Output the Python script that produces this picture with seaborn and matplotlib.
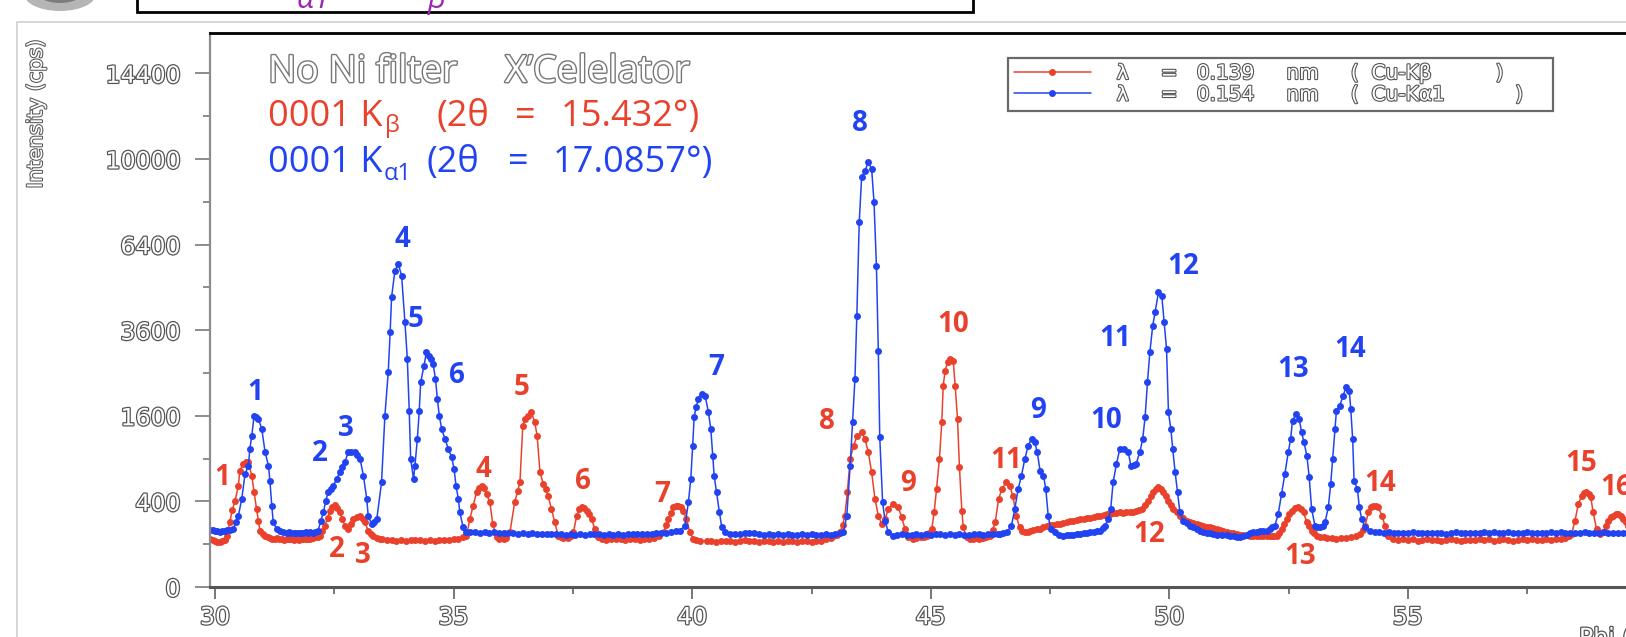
import numpy as np
import pandas as pd
import matplotlib
matplotlib.use("Agg")
import matplotlib.pyplot as plt
import matplotlib.patheffects as pe
from matplotlib.patches import Rectangle, Ellipse
import seaborn as sns

# scan data: (phi, intensity in cps)
red_scan = [
    (29.90, 128), (29.95, 122), (30.00, 118), (30.05, 112), (30.10, 110), (30.15, 114), (30.20, 120),
    (30.25, 140), (30.31, 228), (30.36, 320), (30.42, 407), (30.49, 560), (30.52, 739), (30.59, 826),
    (30.65, 850), (30.70, 848), (30.77, 677), (30.82, 489), (30.87, 332), (30.91, 241), (30.94, 174),
    (31.00, 152), (31.05, 144), (31.10, 136), (31.15, 132), (31.20, 128), (31.25, 126), (31.30, 130),
    (31.35, 124), (31.40, 127), (31.45, 122), (31.50, 126), (31.55, 124), (31.60, 128), (31.65, 123),
    (31.70, 126), (31.75, 122), (31.80, 127), (31.85, 124), (31.90, 128), (31.95, 125), (32.00, 126),
    (32.05, 130), (32.10, 134), (32.15, 138), (32.20, 144), (32.25, 170), (32.30, 205), (32.36, 260),
    (32.41, 318), (32.46, 350), (32.51, 367), (32.56, 340), (32.62, 304), (32.67, 250), (32.72, 205),
    (32.79, 184), (32.85, 215), (32.90, 252), (32.97, 270), (33.04, 278), (33.10, 255), (33.14, 228),
    (33.21, 174), (33.27, 152), (33.32, 140), (33.40, 130), (33.46, 126), (33.50, 124), (33.60, 120),
    (33.70, 122), (33.80, 118), (33.90, 121), (34.00, 117), (34.10, 120), (34.20, 123), (34.30, 119),
    (34.40, 116), (34.50, 121), (34.60, 118), (34.70, 122), (34.80, 119), (34.90, 121), (35.00, 124),
    (35.10, 128), (35.20, 134), (35.27, 140), (35.34, 252), (35.41, 361), (35.48, 489), (35.54, 540),
    (35.59, 560), (35.64, 530), (35.69, 472), (35.76, 391), (35.82, 217), (35.90, 135), (35.95, 128),
    (36.00, 130), (36.05, 126), (36.10, 132), (36.18, 163), (36.28, 391), (36.34, 500), (36.39, 598),
    (36.45, 1421), (36.50, 1540), (36.56, 1602), (36.63, 1665), (36.70, 1480), (36.75, 1250),
    (36.81, 718), (36.88, 579), (36.93, 520), (36.98, 455), (37.05, 332), (37.12, 228), (37.19, 144),
    (37.25, 136), (37.30, 132), (37.35, 138), (37.40, 133), (37.45, 140), (37.51, 163), (37.58, 278),
    (37.63, 330), (37.68, 346), (37.73, 340), (37.79, 318), (37.84, 290), (37.89, 252), (37.96, 184),
    (38.03, 135), (38.10, 126), (38.20, 122), (38.30, 128), (38.40, 124), (38.50, 127), (38.60, 121),
    (38.70, 125), (38.80, 128), (38.90, 123), (39.00, 126), (39.10, 124), (39.20, 130), (39.30, 140),
    (39.40, 163), (39.45, 210), (39.50, 252), (39.55, 300), (39.60, 346), (39.65, 358), (39.71, 361),
    (39.76, 345), (39.81, 318), (39.88, 252), (39.95, 163), (40.02, 126), (40.08, 120), (40.16, 117),
    (40.30, 114), (40.40, 118), (40.50, 112), (40.60, 116), (40.70, 113), (40.80, 118), (40.90, 111),
    (41.00, 115), (41.10, 119), (41.20, 114), (41.30, 116), (41.40, 112), (41.50, 117), (41.60, 113),
    (41.70, 110), (41.80, 115), (41.90, 112), (42.00, 118), (42.10, 114), (42.20, 110), (42.30, 116),
    (42.40, 113), (42.50, 109), (42.60, 115), (42.70, 118), (42.80, 124), (42.90, 132), (42.96, 144),
    (43.03, 150), (43.10, 163), (43.15, 210), (43.20, 278), (43.25, 489), (43.31, 894), (43.38, 1090),
    (43.46, 1250), (43.55, 1305), (43.62, 1196), (43.69, 990), (43.76, 718), (43.83, 423), (43.90, 278),
    (43.97, 217), (44.04, 252), (44.11, 332), (44.21, 376), (44.32, 346), (44.39, 265), (44.46, 184),
    (44.53, 135), (44.63, 126), (44.70, 132), (44.80, 136), (44.85, 134), (44.91, 144), (44.97, 160),
    (45.02, 184), (45.07, 304), (45.12, 524), (45.18, 894), (45.23, 1480), (45.26, 2212), (45.30, 2554),
    (45.35, 2756), (45.40, 2838), (45.47, 2797), (45.51, 2212), (45.56, 1541), (45.60, 782),
    (45.65, 318), (45.68, 194), (45.75, 135), (45.82, 124), (45.89, 126), (45.95, 130), (46.00, 128),
    (46.05, 132), (46.10, 130), (46.15, 136), (46.24, 144), (46.30, 180), (46.35, 228), (46.42, 423),
    (46.49, 524), (46.58, 598), (46.65, 560), (46.72, 455), (46.79, 278), (46.86, 194), (46.92, 170),
    (46.97, 163), (47.03, 168), (47.08, 174), (47.15, 178), (47.22, 182), (47.29, 184), (47.36, 196),
    (47.43, 205), (47.50, 208), (47.57, 212), (47.64, 214), (47.71, 217), (47.78, 224), (47.85, 230),
    (47.92, 236), (47.99, 241), (48.06, 246), (48.13, 250), (48.20, 254), (48.27, 257), (48.34, 262),
    (48.41, 268), (48.48, 272), (48.55, 278), (48.62, 284), (48.69, 288), (48.75, 291), (48.82, 296),
    (48.89, 300), (48.96, 304), (49.03, 302), (49.10, 306), (49.17, 303), (49.24, 304), (49.30, 312),
    (49.36, 320), (49.42, 332), (49.49, 368), (49.56, 407), (49.61, 450), (49.66, 489), (49.71, 520),
    (49.77, 543), (49.82, 520), (49.87, 489), (49.93, 450), (49.98, 407), (50.03, 370), (50.08, 332),
    (50.15, 304), (50.22, 278), (50.29, 258), (50.36, 241), (50.43, 232), (50.50, 224), (50.57, 217),
    (50.64, 210), (50.71, 204), (50.78, 199), (50.85, 194), (50.92, 188), (50.99, 183), (51.06, 178),
    (51.13, 174), (51.20, 168), (51.27, 162), (51.34, 157), (51.41, 153), (51.48, 150), (51.55, 147),
    (51.62, 145), (51.69, 144), (51.76, 142), (51.83, 141), (51.90, 140), (51.97, 141), (52.04, 140),
    (52.10, 141), (52.15, 142), (52.20, 143), (52.25, 144), (52.30, 160), (52.35, 184), (52.40, 220),
    (52.46, 252), (52.51, 290), (52.56, 318), (52.63, 338), (52.70, 346), (52.76, 330), (52.81, 304),
    (52.88, 228), (52.93, 200), (52.98, 174), (53.03, 158), (53.09, 144), (53.16, 138), (53.23, 135),
    (53.30, 130), (53.40, 133), (53.50, 128), (53.60, 131), (53.70, 129), (53.80, 134), (53.90, 140),
    (53.99, 153), (54.05, 178), (54.10, 205), (54.17, 304), (54.22, 345), (54.27, 361), (54.33, 355),
    (54.38, 346), (54.45, 278), (54.52, 205), (54.59, 144), (54.69, 126), (54.80, 122), (54.90, 125),
    (55.00, 120), (55.10, 124), (55.20, 118), (55.30, 122), (55.40, 126), (55.50, 119), (55.60, 123),
    (55.70, 117), (55.80, 121), (55.90, 125), (56.00, 120), (56.10, 118), (56.20, 123), (56.30, 119),
    (56.40, 122), (56.50, 126), (56.60, 120), (56.70, 124), (56.80, 118), (56.90, 122), (57.00, 125),
    (57.10, 120), (57.20, 117), (57.30, 122), (57.40, 126), (57.50, 121), (57.60, 124), (57.70, 119),
    (57.80, 123), (57.90, 127), (58.00, 122), (58.10, 125), (58.20, 128), (58.30, 132), (58.37, 140),
    (58.43, 153), (58.50, 241), (58.57, 376), (58.64, 455), (58.69, 480), (58.74, 489), (58.79, 470),
    (58.83, 439), (58.88, 304), (58.95, 184), (59.02, 153), (59.09, 163), (59.15, 200), (59.20, 241),
    (59.25, 265), (59.30, 278), (59.36, 288), (59.41, 291), (59.46, 278), (59.51, 252), (59.57, 230),
    (59.62, 205), (59.70, 170),
]

blue_scan = [
    (29.90, 180), (29.95, 176), (30.00, 172), (30.05, 170), (30.10, 168), (30.15, 172), (30.20, 170),
    (30.25, 176), (30.31, 180), (30.38, 184), (30.44, 230), (30.49, 278), (30.56, 423), (30.63, 697),
    (30.70, 804), (30.73, 1039), (30.77, 1250), (30.82, 1602), (30.86, 1570), (30.91, 1541),
    (30.98, 1363), (31.05, 990), (31.12, 804), (31.15, 617), (31.19, 361), (31.22, 228), (31.29, 184),
    (31.36, 170), (31.43, 163), (31.50, 160), (31.55, 164), (31.60, 158), (31.65, 162), (31.70, 160),
    (31.75, 157), (31.80, 162), (31.85, 159), (31.90, 163), (31.95, 160), (32.00, 165), (32.05, 162),
    (32.10, 168), (32.16, 174), (32.22, 240), (32.27, 304), (32.32, 400), (32.37, 489), (32.43, 525),
    (32.48, 560), (32.55, 640), (32.62, 718), (32.67, 790), (32.72, 848), (32.79, 990), (32.86, 1000),
    (32.93, 990), (32.98, 950), (33.04, 894), (33.11, 677), (33.18, 423), (33.21, 278), (33.28, 217),
    (33.34, 230), (33.39, 252), (33.49, 598), (33.56, 1602), (33.63, 2515), (33.67, 3540),
    (33.70, 4580), (33.77, 5462), (33.84, 5697), (33.91, 5290), (33.98, 3830), (34.03, 2838),
    (34.07, 1697), (34.10, 894), (34.16, 637), (34.19, 804), (34.24, 1196), (34.28, 1697),
    (34.31, 2287), (34.38, 2674), (34.43, 3006), (34.48, 2920), (34.52, 2838), (34.57, 2714),
    (34.62, 2362), (34.66, 1929), (34.70, 1602), (34.75, 1363), (34.82, 1196), (34.89, 1039),
    (34.96, 918), (35.01, 760), (35.05, 560), (35.10, 423), (35.13, 304), (35.20, 194), (35.27, 163),
    (35.35, 168), (35.45, 165), (35.55, 162), (35.65, 166), (35.75, 160), (35.85, 163), (35.95, 158),
    (36.05, 161), (36.15, 157), (36.25, 160), (36.35, 155), (36.45, 158), (36.55, 154), (36.65, 157),
    (36.75, 153), (36.85, 156), (36.95, 152), (37.05, 155), (37.15, 151), (37.25, 154), (37.35, 150),
    (37.45, 153), (37.55, 149), (37.65, 152), (37.75, 150), (37.85, 154), (37.95, 151), (38.05, 155),
    (38.15, 150), (38.25, 153), (38.35, 149), (38.45, 152), (38.55, 150), (38.65, 154), (38.75, 151),
    (38.85, 155), (38.95, 152), (39.05, 156), (39.15, 153), (39.25, 157), (39.35, 160), (39.45, 162),
    (39.55, 165), (39.65, 170), (39.74, 174), (39.85, 205), (39.92, 391), (39.97, 637), (40.01, 1090),
    (40.04, 1571), (40.08, 1762), (40.13, 1929), (40.20, 2033), (40.27, 1998), (40.34, 1665),
    (40.39, 1363), (40.43, 942), (40.46, 677), (40.51, 489), (40.57, 304), (40.62, 194), (40.69, 163),
    (40.80, 156), (40.90, 152), (41.00, 155), (41.10, 158), (41.20, 162), (41.30, 157), (41.40, 153),
    (41.50, 150), (41.60, 152), (41.70, 149), (41.80, 151), (41.90, 148), (42.00, 152), (42.10, 150),
    (42.20, 147), (42.30, 151), (42.40, 149), (42.50, 153), (42.60, 150), (42.70, 148), (42.80, 152),
    (42.90, 150), (43.00, 154), (43.10, 157), (43.17, 163), (43.24, 278), (43.31, 804), (43.36, 1480),
    (43.41, 2362), (43.45, 4019), (43.50, 7259), (43.55, 9162), (43.62, 9460), (43.69, 9843),
    (43.76, 9540), (43.81, 8075), (43.86, 5637), (43.90, 3049), (43.93, 1223), (43.99, 391),
    (44.04, 241), (44.11, 163), (44.21, 144), (44.30, 148), (44.40, 152), (44.50, 147), (44.60, 150),
    (44.70, 153), (44.80, 149), (44.90, 152), (45.00, 150), (45.10, 154), (45.20, 151), (45.30, 148),
    (45.40, 152), (45.50, 149), (45.60, 153), (45.70, 150), (45.80, 147), (45.90, 151), (46.00, 153),
    (46.10, 150), (46.20, 154), (46.30, 152), (46.40, 155), (46.45, 153), (46.52, 158), (46.59, 163),
    (46.69, 205), (46.76, 332), (46.83, 524), (46.90, 677), (46.97, 894), (47.04, 1090), (47.11, 1196),
    (47.18, 1143), (47.23, 990), (47.29, 739), (47.36, 677), (47.41, 524), (47.46, 278), (47.51, 184),
    (47.60, 163), (47.69, 150), (47.78, 144), (47.85, 146), (47.92, 150), (47.99, 148), (48.06, 153),
    (48.13, 156), (48.20, 158), (48.27, 160), (48.34, 163), (48.41, 166), (48.48, 170), (48.55, 174),
    (48.60, 190), (48.65, 205), (48.72, 252), (48.77, 332), (48.82, 598), (48.89, 826), (48.96, 1039),
    (49.05, 1039), (49.14, 990), (49.19, 804), (49.25, 810), (49.30, 826), (49.38, 990), (49.44, 1196),
    (49.49, 1571), (49.54, 2287), (49.59, 3006), (49.65, 3728), (49.70, 4118), (49.77, 4740),
    (49.84, 4633), (49.89, 3823), (49.94, 3093), (49.98, 1665), (50.03, 1363), (50.07, 1039),
    (50.12, 718), (50.17, 489), (50.22, 304), (50.29, 241), (50.36, 222), (50.43, 205), (50.50, 195),
    (50.57, 184), (50.64, 174), (50.71, 168), (50.78, 162), (50.85, 157), (50.92, 153), (51.00, 150),
    (51.10, 147), (51.20, 145), (51.27, 144), (51.35, 140), (51.41, 138), (51.48, 135), (51.55, 142),
    (51.62, 150), (51.69, 158), (51.76, 163), (51.83, 166), (51.90, 170), (51.97, 172), (52.04, 174),
    (52.11, 184), (52.16, 195), (52.21, 205), (52.28, 290), (52.35, 470), (52.42, 700), (52.49, 990),
    (52.54, 1196), (52.58, 1510), (52.65, 1634), (52.72, 1541), (52.77, 1306), (52.82, 1143),
    (52.88, 942), (52.93, 657), (52.98, 332), (53.05, 205), (53.10, 198), (53.16, 194), (53.21, 205),
    (53.26, 228), (53.33, 346), (53.38, 579), (53.42, 894), (53.47, 1363), (53.50, 1697),
    (53.57, 1795), (53.64, 1998), (53.70, 2176), (53.77, 2104), (53.80, 1729), (53.84, 1196),
    (53.87, 617), (53.94, 524), (53.98, 346), (54.03, 252), (54.10, 194), (54.20, 174), (54.30, 166),
    (54.40, 163), (54.50, 160), (54.60, 164), (54.70, 161), (54.80, 158), (54.90, 162), (55.00, 159),
    (55.10, 163), (55.20, 160), (55.30, 157), (55.40, 161), (55.50, 158), (55.60, 162), (55.70, 159),
    (55.80, 156), (55.90, 160), (56.00, 163), (56.10, 159), (56.20, 157), (56.30, 161), (56.40, 158),
    (56.50, 162), (56.60, 165), (56.70, 160), (56.80, 163), (56.90, 158), (57.00, 161), (57.10, 164),
    (57.20, 160), (57.30, 157), (57.40, 161), (57.50, 163), (57.60, 159), (57.70, 162), (57.80, 158),
    (57.90, 161), (58.00, 164), (58.10, 160), (58.20, 163), (58.30, 159), (58.40, 162), (58.50, 158),
    (58.60, 161), (58.70, 164), (58.80, 160), (58.90, 157), (59.00, 161), (59.10, 163), (59.20, 159),
    (59.30, 162), (59.40, 158), (59.50, 161), (59.60, 163), (59.70, 160),
]

# peak numbers
blue_peak_text = ["1", "2", "3", "4", "5", "6", "7", "8", "9", "10", "11", "12", "13", "14"]
blue_peak_x = [30.84, 32.19, 32.74, 33.93, 34.21, 35.06, 40.50, 43.51, 47.25, 48.67, 48.86, 50.29, 52.59, 53.78]
blue_peak_y = [2070, 966, 1374, 6580, 3900, 2438, 2634, 11700, 1697, 1510, 3380, 5600, 2580, 3075]

red_peak_text = ["1", "2", "3", "4", "5", "6", "7", "8", "9", "10", "11", "12", "13", "14", "15", "16"]
red_peak_x = [30.15, 32.56, 33.11, 35.62, 36.42, 37.70, 39.38, 42.82, 44.53, 45.47, 46.58, 49.58, 52.74, 54.41, 58.62, 59.36]
red_peak_y = [650, 76, 53, 751, 2177, 606, 472, 1492, 579, 3747, 871, 148, 52, 579, 826, 540]

y_major = [0, 400, 1600, 3600, 6400, 10000, 14400]
y_minor = [100, 900, 2500, 4900, 8100, 12100]
x_major = [30, 35, 40, 45, 50, 55]
x_minor = [32.5, 37.5, 42.5, 47.5, 52.5, 57.5]

red_label = "λ     =   0.139     nm     (  Cu-Kβ          )"
blue_label = "λ     =   0.154     nm     (  Cu-Kα1           )"

RED = "#e9412c"
BLUE = "#2143f2"
GREY_TXT = "#555555"

W, H = 1626, 637


def fx(px):
    return px / W


def fy(py):
    return 1 - py / H


def hollow(lw=2.0, col=GREY_TXT):
    return [pe.Stroke(linewidth=lw, foreground=col), pe.Normal()]


sns.set_style("white")
plt.rcParams["font.family"] = ["DejaVu Sans"]

fig = plt.figure(figsize=(W / 100, H / 100), dpi=100)
ax = fig.add_axes([fx(210), 1 - 587 / H, (W - 210) / W, (587 - 33) / H])

red_df = pd.DataFrame(red_scan, columns=["phi", "cps"])
blue_df = pd.DataFrame(blue_scan, columns=["phi", "cps"])

sns.lineplot(data=red_df, x="phi", y="cps", ax=ax, color=RED, lw=1.1, marker="o",
             markersize=5, markeredgewidth=0, sort=False, estimator=None, label=red_label)
sns.lineplot(data=blue_df, x="phi", y="cps", ax=ax, color=BLUE, lw=1.1, marker="o",
             markersize=5, markeredgewidth=0, sort=False, estimator=None, label=blue_label)

ax.set_yscale("function", functions=(lambda v: np.sqrt(np.maximum(v, 0)), lambda v: np.square(v)))
ax.set_xlim(29.895, 59.568)
ax.set_ylim(0, 16750)

ax.set_yticks(y_major, labels=[str(v) for v in y_major])
ax.set_yticks(y_minor, minor=True)
ax.set_xticks(x_major, labels=[str(v) for v in x_major])
ax.set_xticks(x_minor, minor=True)

ax.tick_params(axis="y", which="major", direction="out", length=10.8, width=1.4, color="#8c8c8c",
               pad=10.5, labelsize=17, labelcolor="white", left=True)
ax.tick_params(axis="y", which="minor", direction="out", length=5, width=1.4, color="#8c8c8c", left=True)
ax.tick_params(axis="x", which="major", direction="out", length=8.6, width=1.4, color="#777777",
               pad=4.5, labelsize=17, labelcolor="white", bottom=True)
ax.tick_params(axis="x", which="minor", direction="out", length=5, width=1.4, color="#777777", bottom=True)
for lbl in ax.get_xticklabels() + ax.get_yticklabels():
    lbl.set_path_effects(hollow(1.8))

ax.spines["right"].set_visible(False)
ax.spines["top"].set_color("black")
ax.spines["top"].set_linewidth(2)
ax.spines["left"].set_color("#8c8c8c")
ax.spines["left"].set_linewidth(1.6)
ax.spines["bottom"].set_color("#555555")
ax.spines["bottom"].set_linewidth(2.2)

ax.set_ylabel("Intensity (cps)", fontsize=15, color="white", va="center")
ax.yaxis.set_label_coords((36 - 210) / (W - 210), (587 - 114) / (587 - 33))
ax.yaxis.label.set_path_effects(hollow(1.5))
ax.set_xlabel("Phi (deg.)", fontsize=17, color="white", ha="left", va="top")
ax.xaxis.set_label_coords((1579 - 210) / (W - 210), (587 - 626) / (587 - 33))
ax.xaxis.label.set_path_effects(hollow(1.8))

# peak numbers
for t, x, y in zip(blue_peak_text, blue_peak_x, blue_peak_y):
    ax.text(x, y, t, color=BLUE, fontsize=20, fontweight="bold", family="Open Sans",
            ha="center", va="center", clip_on=False)
for t, x, y in zip(red_peak_text, red_peak_x, red_peak_y):
    ax.text(x, y, t, color=RED, fontsize=20, fontweight="bold", family="Open Sans",
            ha="center", va="center", clip_on=False)

leg = ax.legend(loc="upper left", bbox_to_anchor=(fx(1008), fy(113), fx(1553) - fx(1008), (113 - 58) / H),
                bbox_transform=fig.transFigure, mode="expand", borderaxespad=0, fontsize=14.5,
                handlelength=3.8, handletextpad=1.3, labelspacing=0.12, borderpad=0.3,
                fancybox=False, frameon=True, markerscale=1.0)
leg.get_frame().set_edgecolor("#444444")
leg.get_frame().set_linewidth(1.6)
for t in leg.get_texts():
    t.set_color("white")
    t.set_path_effects(hollow(1.6))

# annotation block in the upper left
big = dict(family=["Open Sans", "DejaVu Sans"], fontsize=26, va="baseline", ha="left")
sub = dict(family=["Open Sans", "DejaVu Sans"], fontsize=17, va="baseline", ha="left")
fig.text(fx(268), fy(82), "No Ni filter", color="white", path_effects=hollow(2.0, "#777777"),
         **{**big, "fontsize": 27})
fig.text(fx(505), fy(82), "X’Celelator", color="white", path_effects=hollow(2.0, "#777777"),
         **{**big, "fontsize": 27})

fig.text(fx(268), fy(126), "0001 K", color=RED, **big)
fig.text(fx(385), fy(132), "β", color=RED, **sub)
fig.text(fx(436), fy(126), "(2θ", color=RED, **big)
fig.text(fx(515), fy(126), "=", color=RED, **big)
fig.text(fx(561), fy(126), "15.432°)", color=RED, **big)

fig.text(fx(268), fy(172), "0001 K", color=BLUE, **big)
fig.text(fx(384), fy(180), "α1", color=BLUE, **sub)
fig.text(fx(426), fy(172), "(2θ", color=BLUE, **big)
fig.text(fx(508), fy(172), "=", color=BLUE, **big)
fig.text(fx(553), fy(172), "17.0857°)", color=BLUE, **big)

# page decorations around the chart
fig.add_artist(Rectangle((fx(17), fy(700)), 2, (700 - 21.7) / H, transform=fig.transFigure,
                         fill=False, edgecolor="#cfcfcf", linewidth=1.2, zorder=0))
fig.add_artist(Rectangle((fx(137), fy(11.7)), fx(973) - fx(137), 0.2, transform=fig.transFigure,
                         facecolor="white", edgecolor="black", linewidth=2, zorder=1))
fig.text(fx(297), fy(8), "α1", color="#9c27b0", style="italic", fontsize=22,
         family=["Open Sans", "DejaVu Sans"], va="baseline", zorder=2)
fig.text(fx(428), fy(8), "β", color="#9c27b0", style="italic", fontsize=22,
         family=["Open Sans", "DejaVu Sans"], va="baseline", zorder=2)
fig.add_artist(Ellipse((fx(60), fy(-6)), 72 / W, 34 / H, transform=fig.transFigure,
                       facecolor="#b5b5b5", edgecolor="none", zorder=1))
fig.add_artist(Ellipse((fx(60), fy(-8)), 46 / W, 22 / H, transform=fig.transFigure,
                       facecolor="#7d7d7d", edgecolor="none", zorder=1))

fig.savefig("out.png", dpi=100)
